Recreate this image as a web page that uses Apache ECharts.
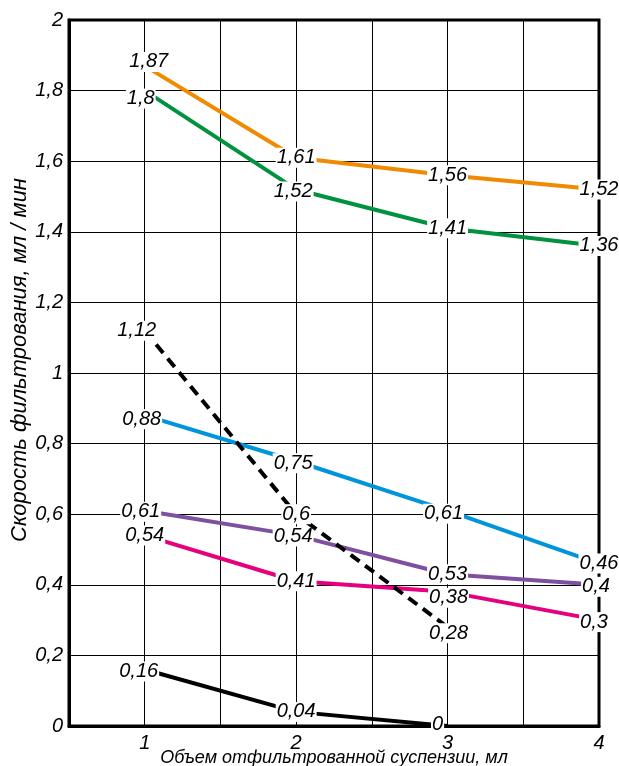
<!DOCTYPE html>
<html>
<head>
<meta charset="utf-8">
<script src="https://cdn.jsdelivr.net/npm/echarts@6/dist/echarts.min.js"></script>
<style>html,body{margin:0;padding:0;background:#fff}#c{width:619px;height:766px}</style>
</head>
<body>
<div id="c"></div>
<script>
const xValues = [1, 2, 3, 4];
const orangeVals = [1.87, 1.61, 1.56, 1.52];
const greenVals = [1.80, 1.52, 1.41, 1.36];
const dashedVals = [1.12, 0.60, 0.28];
const blueVals = [0.88, 0.75, 0.61, 0.46];
const purpleVals = [0.61, 0.54, 0.43, 0.40];
const purpleLabels = ['0,61', '0,54', '0,53', '0,4'];
const pinkVals = [0.54, 0.41, 0.38, 0.30];
const blackVals = [0.16, 0.04, 0];
const yTicks = [0, 0.2, 0.4, 0.6, 0.8, 1, 1.2, 1.4, 1.6, 1.8, 2];

const FONT = '"Liberation Sans", Arial, sans-serif';
const fmt = v => String(v).replace('.', ',');

// label offset tweaks (series key -> index -> [dx, dy])
const labelOffsets = {
  orange: {0: [4, -4]},
  green: {0: [-4, 8], 1: [-3, 2]},
  dashed: {0: [-8, 0], 2: [1, 6]},
  pink: {2: [1, 6], 3: [-5, 2]},
  black: {0: [-6, 2], 2: [-10, -2]},
  blue: {0: [-3, 4], 1: [-3, 2], 2: [-4, 3]},
  purple: {0: [-4, 1], 1: [-3, 1], 3: [-3, 2]},
};

function makeSeries(key, vals, color, opts = {}) {
  const offs = labelOffsets[key] || {};
  const labels = opts.labels;
  return {
    type: 'line',
    name: key,
    symbol: 'circle',
    symbolSize: 0,
    z: opts.z || 3,
    lineStyle: {color: color, width: 4, type: opts.dash || 'solid'},
    itemStyle: {color: color},
    label: {
      show: true,
      position: 'inside',
      formatter: p => labels ? labels[p.dataIndex] : fmt(p.value[1]),
      fontFamily: FONT,
      fontStyle: 'italic',
      fontSize: 20,
      color: '#000',
      backgroundColor: '#fff',
      padding: [0, 1, 0, 1]
    },
    labelLayout: p => {
      const o = offs[p.dataIndex] || [0, 0];
      return {dx: o[0], dy: o[1], hideOverlap: false};
    },
    data: vals.map((v, i) => ({value: [xValues[i], v]}))
  };
}

const chart = echarts.init(document.getElementById('c'), null, {renderer: 'canvas'});
chart.setOption({
  animation: false,
  backgroundColor: '#fff',
  grid: {left: 69, right: 20, top: 20, bottom: 40, show: true, borderColor: '#000', borderWidth: 3,
         backgroundColor: 'transparent', containLabel: false, outerBoundsMode: 'none'},
  xAxis: {
    type: 'value', min: 0.5, max: 4, interval: 0.5,
    name: 'Объем отфильтрованной суспензии, мл',
    nameLocation: 'middle', nameGap: 23, nameMoveOverlap: false,
    nameTextStyle: {fontFamily: FONT, fontStyle: 'italic', fontSize: 18, color: '#000'},
    axisLine: {show: true, lineStyle: {color: '#000', width: 3}},
    axisTick: {show: false},
    axisLabel: {
      fontFamily: FONT, fontStyle: 'italic', fontSize: 20, color: '#000', margin: 7,
      formatter: v => Number.isInteger(v) && xValues.includes(v) ? String(v) : ''
    },
    splitLine: {show: true, lineStyle: {color: '#000', width: 1}}
  },
  yAxis: {
    type: 'value', min: 0, max: 2, interval: 0.2,
    name: 'Скорость фильтрования, мл / мин',
    nameLocation: 'middle', nameGap: 38, nameMoveOverlap: false,
    nameTextStyle: {fontFamily: FONT, fontStyle: 'italic', fontSize: 22, color: '#000', padding: [0, 0, 0, 26]},
    axisLine: {show: true, lineStyle: {color: '#000', width: 3}},
    axisTick: {show: false},
    axisLabel: {
      fontFamily: FONT, fontStyle: 'italic', fontSize: 20, color: '#000', margin: 6,
      formatter: v => {
        const t = yTicks.find(y => Math.abs(y - v) < 1e-6);
        return t === undefined ? '' : fmt(Math.round(t * 10) / 10);
      }
    },
    splitLine: {show: true, lineStyle: {color: '#000', width: 1}}
  },
  series: [
    makeSeries('orange', orangeVals, '#F08A00'),
    makeSeries('green', greenVals, '#00923F'),
    makeSeries('blue', blueVals, '#0095DA'),
    makeSeries('purple', purpleVals, '#7F4FA0', {labels: purpleLabels}),
    makeSeries('pink', pinkVals, '#E5007D'),
    makeSeries('dashed', dashedVals, '#000', {dash: [11, 7], z: 4}),
    makeSeries('black', blackVals, '#000')
  ]
});
</script>
</body>
</html>
